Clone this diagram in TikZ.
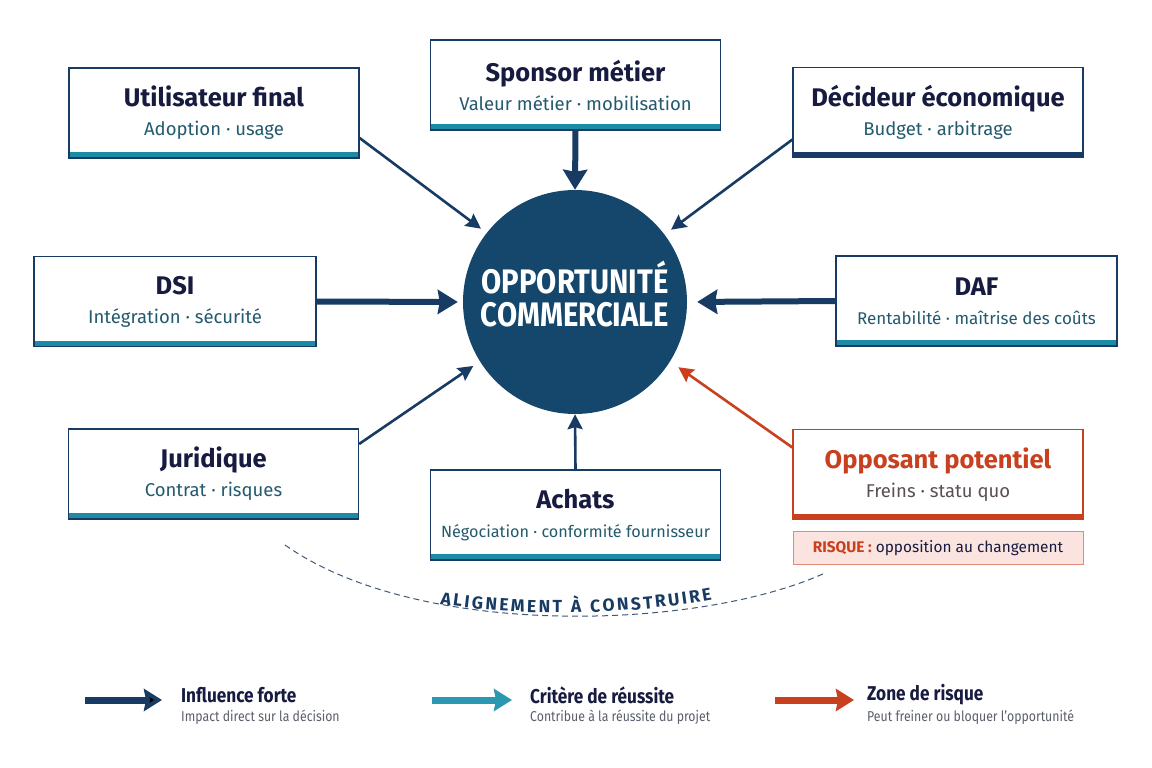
\documentclass[tikz,border=0pt]{standalone}
\usepackage{fontspec}
\setmainfont{Fira Sans}
\newfontfamily\condfont[FakeStretch=0.86]{Fira Sans}
\usetikzlibrary{arrows.meta,positioning,decorations.text}
\definecolor{dealNavy}{HTML}{14476B}
\definecolor{inkNavy}{HTML}{161B3F}
\definecolor{lineNavy}{HTML}{173B63}
\definecolor{barTeal}{HTML}{1B8BA6}
\definecolor{keyTeal}{HTML}{2A98B0}
\definecolor{subTeal}{HTML}{235A6E}
\definecolor{riskRed}{HTML}{C8401E}
\definecolor{riskPink}{HTML}{FBE4DF}
\definecolor{riskEdge}{HTML}{E28A78}
\definecolor{oppGray}{HTML}{5B5050}
\definecolor{noteGray}{HTML}{5A5F6B}
\definecolor{arcGray}{HTML}{3D5A78}
\newcommand{\role}[3][subTeal]{{\bfseries\fontsize{25.5}{29}\selectfont #2}\\{\color{#1}#3}}

\begin{document}
\begin{tikzpicture}[x=1pt, y=-1pt,
    role/.style={draw=lineNavy, line width=1.2pt, fill=white, minimum width=290pt, minimum height=90pt,
        align=center, text=inkNavy, font=\fontsize{18.5}{29}\selectfont,
        path picture={\fill[#1] (path picture bounding box.south west) rectangle ([yshift=6pt]path picture bounding box.south east);}},
    role/.default=barTeal,
    bigArrow/.style={draw=lineNavy, line width=6pt, -{Stealth[length=20pt,width=24pt,inset=2pt]}},
    thinArrow/.style={draw=lineNavy, line width=2.6pt, -{Stealth[length=15pt,width=15pt,inset=2pt]}},
    legArrow/.style={draw=#1, line width=7pt, -{Stealth[length=18pt,width=22pt,inset=2pt]}},
    keyText/.style={anchor=west, inner sep=0pt, text=inkNavy, font=\condfont\bfseries\fontsize{20}{22}\selectfont},
    keyNote/.style={anchor=west, inner sep=0pt, text=noteGray, font=\condfont\fontsize{14.3}{16}\selectfont}]
    \fill[white] (0,0) rectangle (1152,768);
    \useasboundingbox (0,0) rectangle (1152,768);

    \node[circle, fill=dealNavy, minimum size=224pt, inner sep=0pt, text=white, align=center, text depth=16pt,
        font=\condfont\bfseries\fontsize{34}{33}\selectfont] (Deal) at (575,302) {OPPORTUNITÉ\\COMMERCIALE};

    \node[role] (User) at (214,113) {\role{Utilisateur final}{Adoption · usage}};
    \node[role] (Sponsor) at (575.5,85) {\role{Sponsor métier}{Valeur métier · mobilisation}};
    \node[role=lineNavy] (Buyer) at (938,112.5) {\role{Décideur économique}{Budget · arbitrage}};
    \node[role, minimum width=282pt] (DSI) at (175,301.5) {\role{DSI}{Intégration · sécurité}};
    \node[role, minimum width=281pt] (DAF) at (976.5,301) {\role{DAF}{\fontsize{17}{29}\selectfont Rentabilité · maîtrise des coûts}};
    \node[role] (Legal) at (213.5,474) {\role{Juridique}{Contrat · risques}};
    \node[role] (Purch) at (575.5,515) {\role{Achats}{\fontsize{16.2}{29}\selectfont Négociation · conformité fournisseur}};
    \node[role=riskRed, draw=riskRed, text=riskRed] (Oppo) at (938,474.5) {\role[oppGray]{Opposant potentiel}{Freins · statu quo}};
    \node[draw=riskEdge, fill=riskPink, line width=1pt, minimum width=290pt, minimum height=33pt,
        text=inkNavy, font=\fontsize{15.4}{18}\selectfont] (Risk) [below=11pt of Oppo]
        {\textcolor{riskRed}{\bfseries RISQUE :} opposition au changement};

    \draw[bigArrow] (Sponsor.south) -- (Deal.north);
    \draw[bigArrow, shorten >=5pt] (DSI.east) -- (Deal.west);
    \draw[bigArrow, shorten >=10pt] (DAF.west) -- (Deal.east);
    \draw[thinArrow, shorten >=7pt] ([yshift=-25pt]User.east) -- (Deal.142);
    \draw[thinArrow, shorten >=8pt] ([yshift=-27pt]Buyer.west) -- (Deal.37);
    \draw[thinArrow, shorten >=8pt] ([yshift=30pt]Legal.east) -- (Deal.212);
    \draw[thinArrow] (Purch.north) -- (Deal.south);
    \draw[thinArrow, draw=riskRed, shorten >=10pt] ([yshift=27pt]Oppo.west) -- (Deal.328);

    \draw[arcGray, line width=1pt, dash pattern=on 6pt off 4pt] (285,545) .. controls (420,640) and (700,630) .. (825,573);
    \path[decorate, decoration={text along path, text color=lineNavy, text align=fit to path,
        text={|\bfseries\fontsize{17.5}{20}\selectfont|ALIGNEMENT À CONSTRUIRE}}]
        (440,604) .. controls (520,617) and (630,615) .. (712,600);

    \coordinate (K1a) at (85,700);
    \coordinate (K1b) at (162,700);
    \coordinate (K2a) at (432,700);
    \coordinate (K2b) at (512,700);
    \coordinate (K3a) at (775,700);
    \coordinate (K3b) at (854,700);
    \draw[legArrow=lineNavy] (K1a) -- (K1b);
    \draw[legArrow=keyTeal] (K2a) -- (K2b);
    \draw[legArrow=riskRed] (K3a) -- (K3b);
    \node[keyText] (K1t) at (181,695) {Influence forte};
    \node[keyNote] (K1n) at (181,717) {Impact direct sur la décision};
    \node[keyText] (K2t) at (530,695) {Critère de réussite};
    \node[keyNote] (K2n) at (530,717) {Contribue à la réussite du projet};
    \node[keyText] (K3t) at (867,695) {Zone de risque};
    \node[keyNote] (K3n) at (867,717) {Peut freiner ou bloquer l’opportunité};
\end{tikzpicture}
\end{document}
